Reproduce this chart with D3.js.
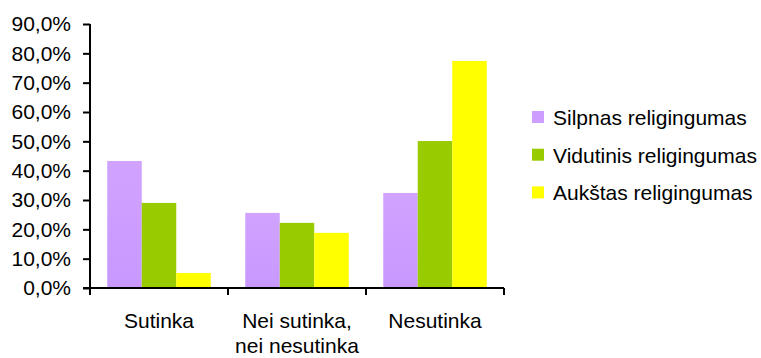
<!DOCTYPE html>
<html>
<head>
<meta charset="utf-8">
<script src="https://cdn.jsdelivr.net/npm/d3@7"></script>
<style>
  html, body { margin: 0; padding: 0; background: #fff; }
  svg text { font-family: "Liberation Sans", Arial, sans-serif; fill: #000; }
</style>
</head>
<body>
<svg id="chart" width="761" height="358"></svg>
<script>
// Answer categories (x axis), one label line per array entry
const categories = [
  ["Sutinka"],
  ["Nei sutinka,", "nei nesutinka"],
  ["Nesutinka"]
];
const seriesNames = ["Silpnas religingumas", "Vidutinis religingumas", "Aukštas religingumas"];
const silpnas   = [43.3, 25.6, 32.4];
const vidutinis = [29.0, 22.2, 50.1];
const aukstas   = [5.1, 18.8, 77.4];
const yTicks = [0, 10, 20, 30, 40, 50, 60, 70, 80, 90];
const colors = ["#CE9EFF", "#99CC00", "#FFFF00"];

const seriesValues = [silpnas, vidutinis, aukstas];
const svg = d3.select("#chart");
const fontSize = "21px";

const plot = { left: 90, right: 504, top: 24, bottom: 288 };

const x0 = d3.scaleBand()
  .domain(d3.range(categories.length))
  .range([plot.left, plot.right])
  .paddingInner(0).paddingOuter(0);

// three touching bars, half a bar of space on either side
const x1 = d3.scaleBand()
  .domain(d3.range(seriesNames.length))
  .range([0, x0.bandwidth()])
  .paddingInner(0)
  .paddingOuter(0.5);

const y = d3.scaleLinear().domain([0, 90]).range([plot.bottom, plot.top]);

// soft vertical shading on the lilac bars
const defs = svg.append("defs");
const grad = defs.append("linearGradient")
  .attr("id", "lilac").attr("x1", 0).attr("y1", 0).attr("x2", 0).attr("y2", 1);
grad.append("stop").attr("offset", "0%").attr("stop-color", "#D1A3FF");
grad.append("stop").attr("offset", "100%").attr("stop-color", "#C898FF");

const fills = ["url(#lilac)", colors[1], colors[2]];

// bars
const groups = svg.append("g").selectAll("g")
  .data(categories.map((c, i) => i))
  .join("g")
  .attr("transform", i => `translate(${x0(i)},0)`);

groups.selectAll("rect")
  .data(i => seriesValues.map((vals, s) => ({ s, v: vals[i] })))
  .join("rect")
  .attr("x", d => x1(d.s))
  .attr("width", x1.bandwidth())
  .attr("y", d => y(d.v))
  .attr("height", d => y(0) - y(d.v))
  .attr("fill", d => fills[d.s]);

// y axis
const yAxis = d3.axisLeft(y)
  .tickValues(yTicks)
  .tickSize(7)
  .tickPadding(12)
  .tickFormat(d => d3.format(".1f")(d).replace(".", ",") + "%");

const gy = svg.append("g")
  .attr("transform", `translate(${plot.left},0)`)
  .call(yAxis);
gy.select(".domain").attr("stroke", "#000").attr("stroke-width", 2)
  .attr("d", `M0,${plot.top}V${plot.bottom + 7}`);
gy.selectAll(".tick line").attr("stroke", "#000").attr("stroke-width", 2);
gy.selectAll(".tick text")
  .style("font-family", "Liberation Sans, Arial, sans-serif")
  .style("font-size", fontSize).attr("fill", "#000");

// x axis
const gx = svg.append("g")
  .attr("transform", `translate(0,${plot.bottom})`);
gx.append("line")
  .attr("x1", plot.left - 7).attr("x2", plot.right)
  .attr("stroke", "#000").attr("stroke-width", 2);
const xEdges = d3.range(categories.length + 1).map(i =>
  i < categories.length ? x0(i) : x0(i - 1) + x0.bandwidth());
gx.selectAll("line.tick")
  .data(xEdges)
  .join("line")
  .attr("class", "tick")
  .attr("x1", d => d).attr("x2", d => d)
  .attr("y1", 0).attr("y2", 7)
  .attr("stroke", "#000").attr("stroke-width", 2);

const catLabels = gx.selectAll("text.cat")
  .data(categories)
  .join("text")
  .attr("class", "cat")
  .attr("text-anchor", "middle")
  .attr("x", (d, i) => x0(i) + x0.bandwidth() / 2)
  .attr("y", 40)
  .style("font-size", fontSize);
catLabels.selectAll("tspan")
  .data(d => d)
  .join("tspan")
  .attr("x", function() { return d3.select(this.parentNode).attr("x"); })
  .attr("dy", (d, i) => i === 0 ? 0 : 25)
  .text(d => d);

// legend
const legend = svg.append("g").attr("transform", "translate(532,111)");
const items = legend.selectAll("g")
  .data(seriesNames)
  .join("g")
  .attr("transform", (d, i) => `translate(0,${i * 37.7})`);
items.append("rect")
  .attr("width", 12).attr("height", 12)
  .attr("fill", (d, i) => colors[i]);
items.append("text")
  .attr("x", 21).attr("y", 14)
  .style("font-size", fontSize)
  .text(d => d);
</script>
</body>
</html>
